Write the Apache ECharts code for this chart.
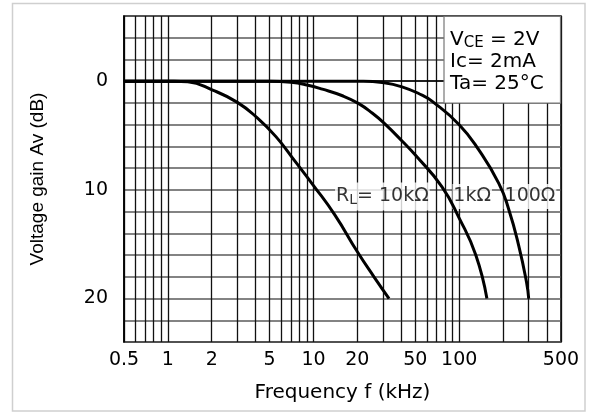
<!DOCTYPE html>
<html><head><meta charset="utf-8">
<script src="https://cdn.jsdelivr.net/npm/echarts@6/dist/echarts.min.js"></script>
<style>html,body{margin:0;padding:0;background:#fff}#c{width:593px;height:412px}</style>
</head><body><div id="c"></div>
<script>
// Tick labels and grid positions (kHz)
const freqLabels = [0.5, 1, 2, 5, 10, 20, 50, 100, 500];
const freqGrid = [0.5,0.6,0.7,0.8,0.9,1,2,3,4,5,6,7,8,9,10,20,30,40,50,60,70,80,90,100,200,300,400,500];
const gainLabels = [0, 10, 20];

// Curves: [frequency kHz, gain drop dB]
const rl10k = [[0.5,0],[1.1,0],[1.37,0.06],[2.03,0.82],[3.0,1.95],[4.13,3.4],[5.52,5.1],[7.5,7.4],[10,9.6],[14,12.3],[20,15.7],[26,18.0],[33,20]];
const rl1k = [[0.5,0],[5,0],[7,0.1],[9,0.35],[11.5,0.73],[15.8,1.34],[20.3,2.04],[25.4,2.95],[30.5,3.86],[40.5,5.5],[50,6.8],[76,9.7],[100,12.6],[130,16.0],[155,20]];
const rl100 = [[0.5,0],[22,0],[29.6,0.12],[40.5,0.52],[55.6,1.28],[65,1.83],[100,4.0],[136,6.3],[187,9.4],[219,11.8],[256,15.1],[290,18.5],[300,20]];

// Curve annotations: [frequency, dB, text]
const curveLabels = [[29.7,10.6,'R{s|L}= 10kΩ'],[122.8,10.6,'1kΩ'],[306,10.6,'100Ω']];

const chart = echarts.init(document.getElementById('c'), null, {renderer:'canvas'});
const fmt = v => String(+(+v).toPrecision(3));
const lineSeries = (name, data) => ({
  type:'line', name, data, symbol:'none', smooth:0.5, z:3,
  lineStyle:{color:'#000', width:3}, itemStyle:{color:'#000'}
});
chart.setOption({
  animation:false,
  backgroundColor:'#fff',
  grid:{left:124, right:32, top:16, bottom:70, show:true, borderColor:'#000', borderWidth:1.5, backgroundColor:'transparent'},
  xAxis:{
    type:'log', logBase:10, min:0.5, max:500,
    axisLine:{show:true, lineStyle:{color:'#000', width:1.5}},
    axisTick:{show:false, customValues:freqGrid},
    axisLabel:{customValues:freqLabels, formatter:fmt, margin:9, color:'#000', fontFamily:'DejaVu Sans', fontSize:19, showMinLabel:true, showMaxLabel:true},
    splitLine:{show:true, lineStyle:{color:'#111', width:1.3}},
    minorSplitLine:{show:false},
    name:'Frequency f (kHz)', nameLocation:'middle', nameGap:41,
    nameTextStyle:{color:'#000', fontFamily:'DejaVu Sans', fontSize:20}
  },
  yAxis:{
    type:'value', inverse:true, min:-6, max:24, interval:2,
    axisLine:{show:true, lineStyle:{color:'#000', width:1.5}},
    axisTick:{show:false},
    axisLabel:{formatter:v => gainLabels.includes(v) ? String(v) : '', margin:16, color:'#000', fontFamily:'DejaVu Sans', fontSize:19},
    splitLine:{show:true, lineStyle:{color:'#5a5a5a', width:1.5}},
    name:'Voltage gain Av (dB)', nameLocation:'middle', nameGap:77, nameRotate:90,
    nameTextStyle:{color:'#000', fontFamily:'Liberation Sans', fontSize:19}
  },
  series:[
    lineSeries('10kΩ', rl10k),
    lineSeries('1kΩ', rl1k),
    lineSeries('100Ω', rl100),
    {
      type:'scatter', z:1, symbolSize:1, itemStyle:{color:'rgba(0,0,0,0)'},
      data:curveLabels.map(d => ({value:[d[0], d[1]], name:d[2]})),
      label:{show:true, position:'inside', formatter:p => p.name, color:'#000',
        fontFamily:'DejaVu Sans', fontSize:19, backgroundColor:'#fff', padding:[3,1],
        rich:{s:{fontFamily:'DejaVu Sans', fontSize:14, verticalAlign:'bottom', padding:[8,0,0,0], color:'#000'}}
      },
      emphasis:{disabled:true}, silent:true
    }
  ],
  graphic:[
    {type:'rect', silent:true, z:100, shape:{x:12.5, y:3.5, width:572.5, height:407.5}, style:{fill:'none', stroke:'#cfcfcf', lineWidth:1.5}},
    {type:'rect', silent:true, z:50, shape:{x:444, y:16.5, width:116.5, height:86.5}, style:{fill:'#fff', stroke:'#777', lineWidth:1.2}},
    {type:'text', silent:true, z:51, x:450, y:29, style:{
      text:'{a|V}{b|CE}{a| = 2V}\n{a|Ic= 2mA}\n{a|Ta= 25°C}',
      fill:'#000',
      rich:{a:{fontFamily:'DejaVu Sans', fontSize:20, lineHeight:22, color:'#000'}, b:{fontFamily:'DejaVu Sans', fontSize:15, lineHeight:22, color:'#000', verticalAlign:'bottom', padding:[7,0,0,0]}}
    }}
  ]
});
</script></body></html>
